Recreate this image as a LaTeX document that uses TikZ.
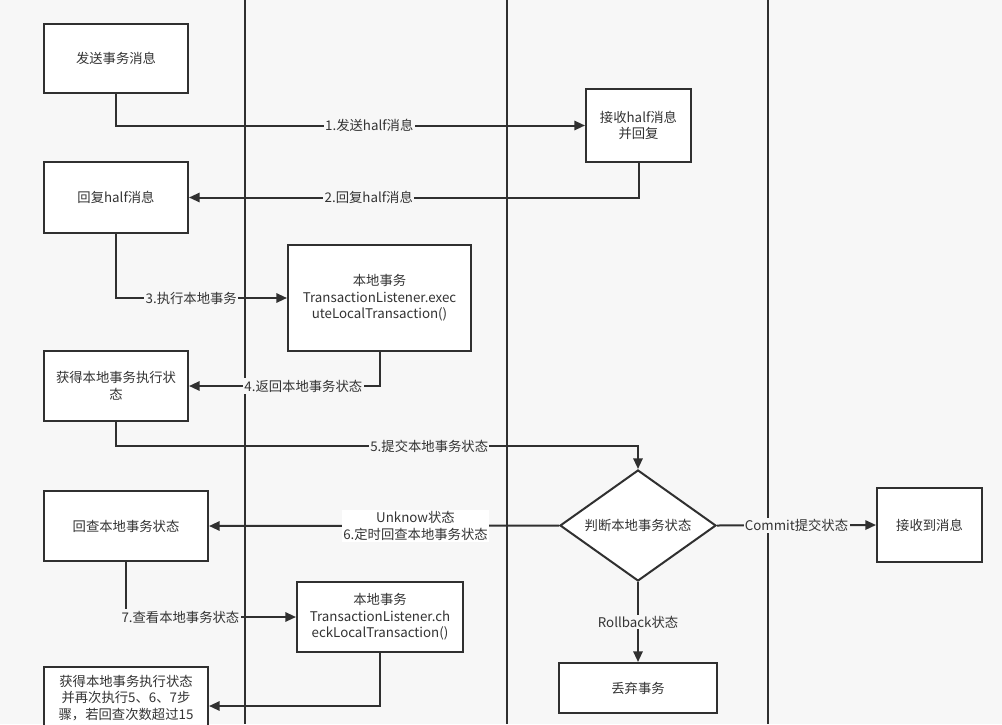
\documentclass[tikz,border=0pt]{standalone}
\usepackage{fontspec}
\setmainfont{Noto Sans CJK SC}
\usetikzlibrary{shapes.geometric,arrows.meta}
\definecolor{bgcol}{HTML}{F7F7F7}
\definecolor{linecol}{HTML}{303030}
\tikzset{
	box/.style={draw=linecol, fill=white, line width=1.5pt, align=center, inner sep=2pt},
	lane/.style={draw=linecol, line width=1.5pt},
	flow/.style={draw=linecol, line width=1.5pt, -{Triangle[length=8pt,width=7pt]}},
	lbl/.style={fill=bgcol, inner sep=1pt, align=center},
}

\begin{document}
\begin{tikzpicture}[x=0.75pt, y=-0.75pt, font=\fontsize{10}{12.5}\selectfont, text=black!80]
		%%%%% START %%%%%
		
		\fill[bgcol] (0,0) rectangle (1002,724);
		\useasboundingbox (0,0) rectangle (1002,724);
		\clip (0,0) rectangle (1002,724);
		
		% swimlanes
		\draw[lane] (245,0) -- (245,724);
		\draw[lane] (507,0) -- (507,724);
		\draw[lane] (768,0) -- (768,724);
		
		% producer side
		\node[box, minimum width=108pt, minimum height=51.75pt] (send) at (116,58.5) {发送事务消息};
		\node[box, minimum width=108pt, minimum height=53.25pt] (halfack) at (116,197.5) {回复half消息};
		\node[box, minimum width=108pt, minimum height=52.5pt] (state) at (116,386) {获得本地事务执行状\\态};
		\node[box, minimum width=123pt, minimum height=52.5pt] (recheck) at (126,526) {回查本地事务状态};
		\node[box, minimum width=123pt, minimum height=46.5pt] (final) at (126,698) {获得本地事务执行状态\\并再次执行5、6、7步\\骤，若回查次数超过15};
		
		% local transaction
		\node[box, minimum width=137.25pt, minimum height=79.5pt] (exec) at (379.5,298) {本地事务\\TransactionListener.exec\\uteLocalTransaction()};
		\node[box, minimum width=124.5pt, minimum height=52.5pt] (check) at (380,617) {本地事务\\TransactionListener.ch\\eckLocalTransaction()};
		
		% broker side
		\node[box, minimum width=78.75pt, minimum height=54.75pt] (recv) at (638.5,125.5) {接收half消息\\并回复};
		\node[box, shape=diamond, shape aspect=1.4, inner sep=0pt, minimum width=117pt, minimum height=83.25pt] (judge) at (638,525.5) {判断本地事务状态};
		\node[box, minimum width=118.5pt, minimum height=37.5pt] (discard) at (638,688) {丢弃事务};
		
		% consumer side
		\node[box, minimum width=78.75pt, minimum height=55.5pt] (recvmsg) at (929.5,525) {接收到消息};
		
		% steps
		\draw[flow] (send.south) |- node[lbl, pos=0.77] {1.发送half消息} (recv.west);
		\draw[flow] (recv.south) |- node[lbl, pos=0.8] {2.回复half消息} (halfack.east);
		\draw[flow] (halfack.south) |- node[lbl, pos=0.72] {3.执行本地事务} (exec.west);
		\draw[flow] (exec.south) |- node[lbl, pos=0.7] {4.返回本地事务状态} (state.east);
		\draw[flow] (state.south) -- ++(0,24) -| node[lbl, pos=0.3] {5.提交本地事务状态} (judge.north);
		\draw[flow] (judge.west) -- node[lbl, fill=white, pos=0.41] {Unknow状态\\6.定时回查本地事务状态} (recheck.east);
		\draw[flow] (recheck.south) |- node[lbl, pos=0.66] {7.查看本地事务状态} (check.west);
		\draw[flow] (check.south) |- ([yshift=-6pt]final.east);
		\draw[flow] (judge.east) -- node[lbl] {Commit提交状态} (recvmsg.west);
		\draw[flow] (judge.south) -- node[lbl] {Rollback状态} (discard.north);
		
		%%%%% END %%%%%
	\end{tikzpicture}
\end{document}
